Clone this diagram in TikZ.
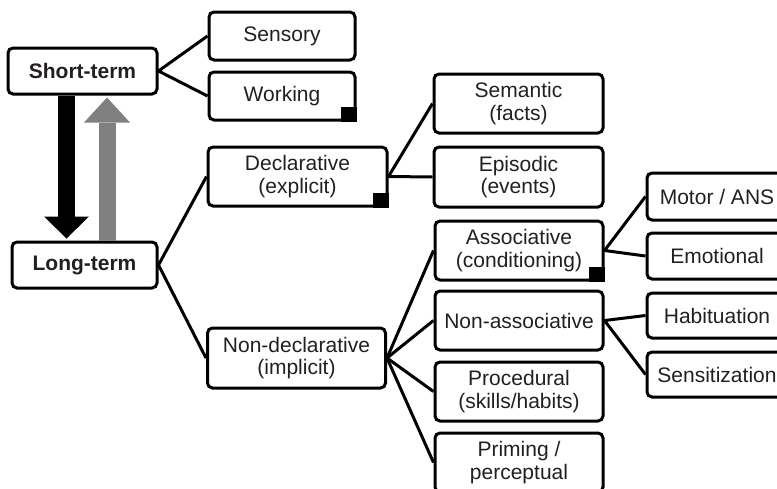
\documentclass[tikz,border=0pt]{standalone}
\usepackage{fontspec}
\setmainfont{Liberation Sans}
\usetikzlibrary{arrows.meta,positioning}
\definecolor{inkgray}{HTML}{231F20}
\definecolor{upgray}{HTML}{808080}
\tikzset{
  memory/.style = {draw = black, line width = 3pt, rounded corners = 5pt, align = center, text = inkgray, font = \fontsize{21}{22.5}\selectfont, inner sep = 0pt},
  topbox/.style = {memory, font = \bfseries\fontsize{21}{22.5}\selectfont},
  link/.style = {line width = 3pt},
  fatarrow/.style = {line width = 17pt, shorten > = 2pt, -{Triangle[width = 45pt, length = 22pt, line width = 0pt]}},
  corner/.style = {fill = black}
}
\begin{document}
\begin{tikzpicture}[x = 1pt, y = -1pt]
\useasboundingbox (0,0) rectangle (777,488);
\clip (0,0) rectangle (777,488);
\node[topbox, minimum width = 149pt, minimum height = 46pt] (st) at (82.5,71) {Short-term};
\node[topbox, minimum width = 145pt, minimum height = 46pt] (lt) at (84.5,265) {Long-term};
\node[memory, minimum width = 146pt, minimum height = 48pt] (sens) at (282,36) {Sensory};
\node[memory, minimum width = 146pt, minimum height = 48pt] (work) at (282,96) {Working};
\node[memory, minimum width = 179pt, minimum height = 59pt] (decl) at (297.5,176.5) {Declarative\\(explicit)};
\node[memory, minimum width = 178pt, minimum height = 60pt] (nondecl) at (296.5,358) {Non-declarative\\(implicit)};
\node[memory, minimum width = 169pt, minimum height = 59pt] (sem) at (518.5,103.5) {Semantic\\(facts)};
\node[memory, minimum width = 169pt, minimum height = 60pt] (epi) at (518.5,177) {Episodic\\(events)};
\node[memory, minimum width = 168pt, minimum height = 59pt] (assoc) at (519,250.5) {Associative\\(conditioning)};
\node[memory, minimum width = 168pt, minimum height = 59pt] (nonassoc) at (519,320.5) {Non-associative};
\node[memory, minimum width = 168pt, minimum height = 59pt] (proc) at (519,391.5) {Procedural\\(skills/habits)};
\node[memory, minimum width = 168pt, minimum height = 59pt] (prim) at (519,462.5) {Priming /\\perceptual};
\node[memory, minimum width = 140pt, minimum height = 47pt] (motor) at (717,196.5) {Motor / ANS};
\node[memory, minimum width = 140pt, minimum height = 46pt] (emo) at (717,256) {Emotional};
\node[memory, minimum width = 140pt, minimum height = 45pt] (hab) at (717,315.5) {Habituation};
\node[memory, minimum width = 140pt, minimum height = 45pt] (sensit) at (717,374.5) {Sensitization};
\fill[corner] (work.south east) rectangle ++(-16,-15);
\fill[corner] (decl.south east) rectangle ++(-16,-15);
\fill[corner] (assoc.south east) rectangle ++(-16,-15);
\coordinate (bdown) at (66.5,0);
\coordinate (bup) at (107,0);
\draw[fatarrow, black] (st.south -| bdown) -- (lt.north -| bdown);
\draw[fatarrow, upgray, -{Triangle[width = 46pt, length = 25pt, line width = 0pt]}] (lt.north -| bup) -- (st.south -| bup);
\draw[link] (sens.west) -- (st.east) -- (work.west);
\draw[link] (decl.west) -- (lt.east) -- (nondecl.west);
\draw[link] (sem.west) -- (decl.east) -- (epi.west);
\draw[link] (nondecl.east) -- (assoc.west);
\draw[link] (nondecl.east) -- (nonassoc.west);
\draw[link] (nondecl.east) -- (proc.west);
\draw[link] (nondecl.east) -- (prim.west);
\draw[link] (motor.west) -- (assoc.east) -- (emo.west);
\draw[link] (hab.west) -- (nonassoc.east) -- (sensit.west);
\end{tikzpicture}
\end{document}
